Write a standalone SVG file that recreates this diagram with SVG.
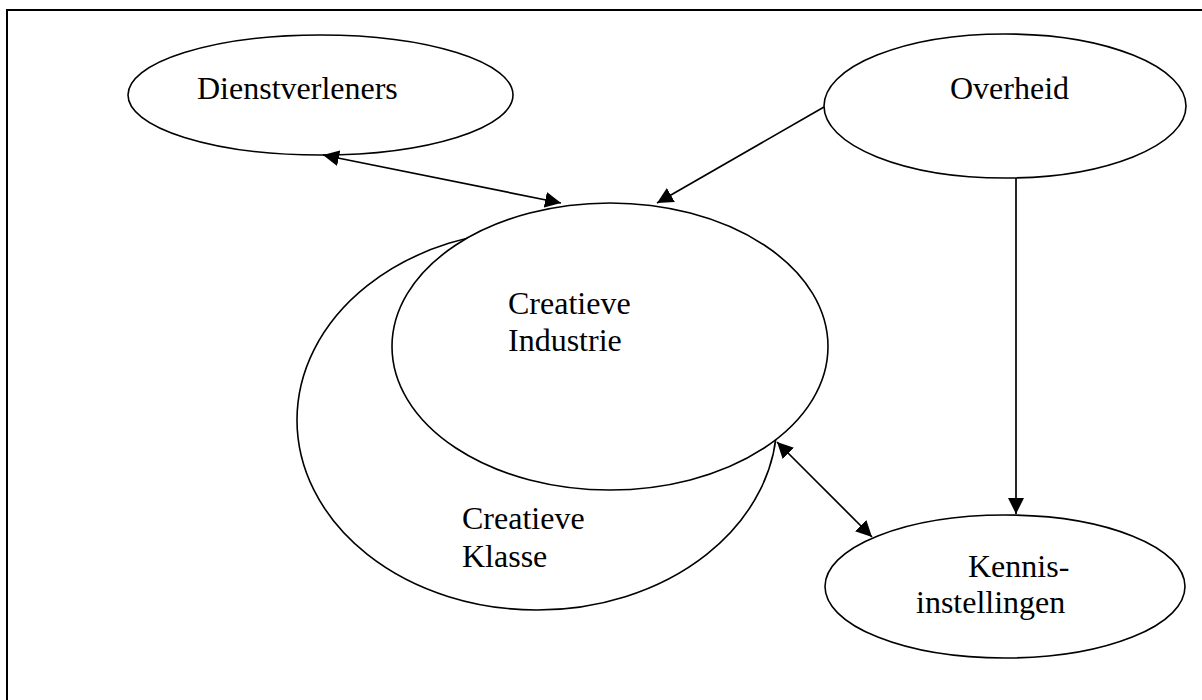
<svg xmlns="http://www.w3.org/2000/svg" width="1202" height="700" viewBox="0 0 1202 700">
  <style>
    .node { fill: #ffffff; stroke: #000000; stroke-width: 1.6; }
    .lbl { font-family: "Liberation Serif", "Times New Roman", serif; font-size: 32px; fill: #000000; }
    .edge { stroke: #000000; stroke-width: 1.7; fill: none; }
    .frame { fill: none; stroke: #000000; stroke-width: 2; }
  </style>
  <defs>
    <marker id="arrow" markerUnits="userSpaceOnUse" markerWidth="17" markerHeight="17" refX="16" refY="8" orient="auto-start-reverse">
      <path d="M0,0 L16,8 L0,16 z" fill="#000000"/>
    </marker>
  </defs>
  <rect width="1202" height="700" fill="#ffffff"/>
  <rect class="frame" x="7" y="10" width="1210" height="710"/>

  <g id="creatieve-klasse">
    <ellipse class="node" cx="537" cy="420" rx="240" ry="190"/>
    <text class="lbl" x="462" y="529">Creatieve</text>
    <text class="lbl" x="462" y="567">Klasse</text>
  </g>

  <g id="creatieve-industrie">
    <ellipse class="node" cx="610" cy="346.5" rx="218" ry="143.5"/>
    <text class="lbl" x="508" y="314">Creatieve</text>
    <text class="lbl" x="508" y="351">Industrie</text>
  </g>

  <g id="dienstverleners">
    <ellipse class="node" cx="320.5" cy="95" rx="192.5" ry="60"/>
    <text class="lbl" x="197" y="99">Dienstverleners</text>
  </g>

  <g id="overheid">
    <ellipse class="node" cx="1005" cy="106" rx="181" ry="72"/>
    <text class="lbl" x="950" y="99">Overheid</text>
  </g>

  <g id="kennisinstellingen">
    <ellipse class="node" cx="1005" cy="586.5" rx="180" ry="71.5"/>
    <text class="lbl" x="968" y="577">Kennis-</text>
    <text class="lbl" x="916" y="613">instellingen</text>
  </g>

  <g id="connectors">
    <line class="edge" x1="323" y1="155" x2="561" y2="203" marker-start="url(#arrow)" marker-end="url(#arrow)"/>
    <line class="edge" x1="824" y1="107" x2="657" y2="203" marker-end="url(#arrow)"/>
    <line class="edge" x1="1016" y1="178" x2="1016" y2="514" marker-end="url(#arrow)"/>
    <line class="edge" x1="777" y1="442" x2="872" y2="537" marker-start="url(#arrow)" marker-end="url(#arrow)"/>
  </g>
</svg>
